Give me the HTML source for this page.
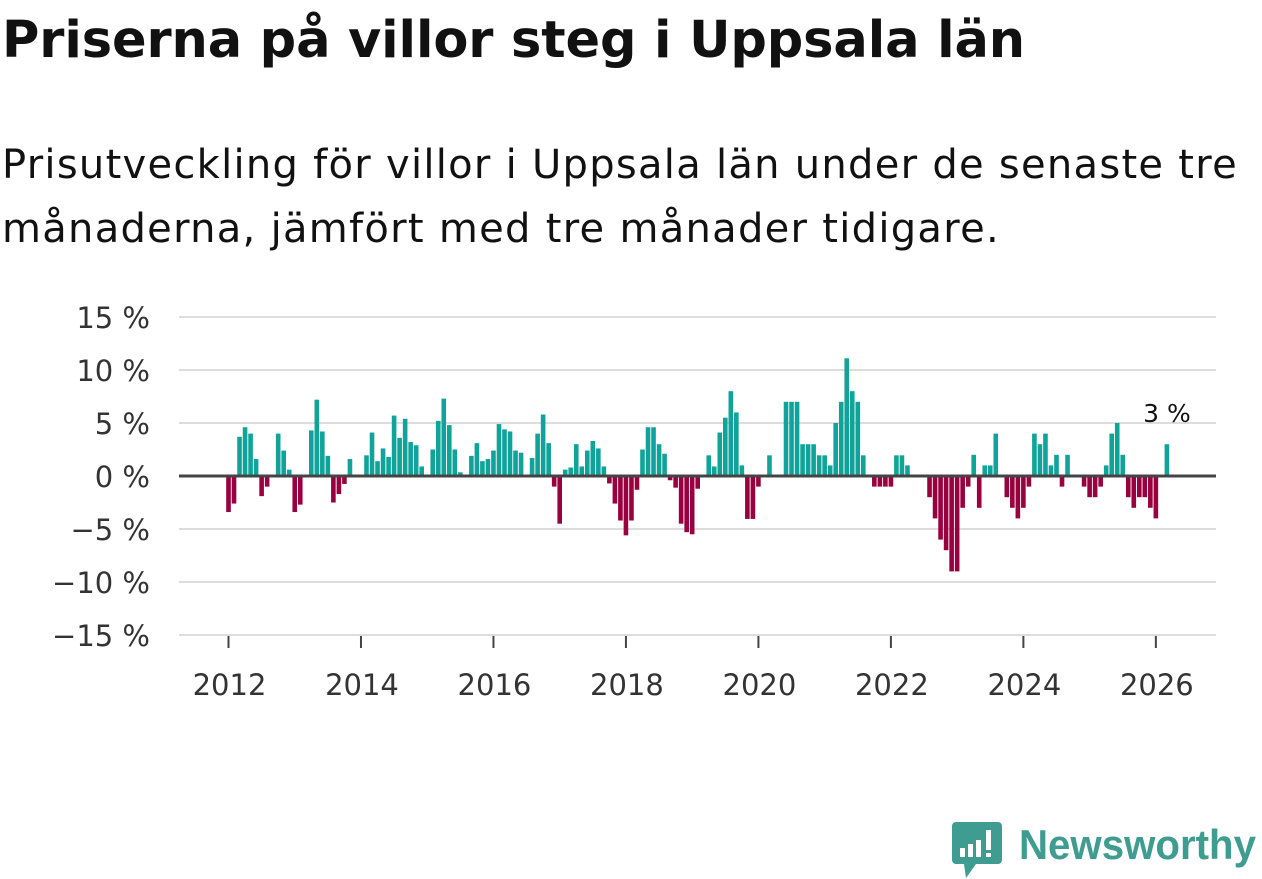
<!DOCTYPE html>
<html><head><meta charset="utf-8"><style>
body{margin:0;width:1262px;height:879px;background:#fff;font-family:"DejaVu Sans",sans-serif;overflow:hidden;position:relative}
#title{position:absolute;left:2px;top:10px;font-size:51px;font-weight:bold;color:#111;margin:0;white-space:nowrap;line-height:62px}
.sub{position:absolute;left:2px;font-size:40px;line-height:50px;color:#111;white-space:nowrap}
svg{position:absolute;left:0;top:0}
</style></head><body>
<h1 id="title">Priserna på villor steg i Uppsala län</h1>
<div id="sub1" class="sub" style="top:140px">Prisutveckling för villor i Uppsala län under de senaste tre</div>
<div id="sub2" class="sub" style="top:204px">månaderna, jämfört med tre månader tidigare.</div>
<svg id="chart" width="1262" height="879"></svg>
<script>
const values=[-3.4,-2.6,3.7,4.6,4.0,1.6,-1.9,-1.0,0,4.0,2.4,0.6,
-3.4,-2.7,0,4.3,7.2,4.2,1.9,-2.5,-1.7,-0.75,1.6,0,
0,1.95,4.1,1.4,2.6,1.8,5.7,3.6,5.4,3.2,2.9,0.9,
0,2.5,5.2,7.3,4.8,2.5,0.35,0,1.9,3.1,1.4,1.6,
2.4,4.9,4.4,4.2,2.4,2.2,0,1.7,4.0,5.8,3.1,-1.0,
-4.5,0.6,0.8,3.0,0.9,2.4,3.3,2.6,0.9,-0.7,-2.6,-4.2,
-5.6,-4.2,-1.3,2.5,4.6,4.6,3.0,2.1,-0.4,-1.1,-4.5,-5.3,
-5.5,-1.2,0,1.95,0.9,4.1,5.5,8.0,6.0,1.0,-4.05,-4.05,
-1.0,0,1.95,0,0,7.0,7.0,7.0,3.0,3.0,3.0,1.95,
1.95,1.0,5.0,7.0,11.1,8.0,7.0,1.95,0,-1.0,-1.0,-1.0,
-1.0,1.95,1.95,1.0,0,0,0,-2.0,-4.0,-6.0,-7.0,-9.0,
-9.0,-3.0,-1.0,2.0,-3.0,1.0,1.0,4.0,0,-2.0,-3.0,-4.0,
-3.0,-1.0,4.0,3.0,4.0,1.0,2.0,-1.0,2.0,0,0,-1.0,
-2.0,-2.0,-1.0,1.0,4.0,5.0,2.0,-2.0,-3.0,-2.0,-2.0,-3.0,
-4.0,0,3.0];
const yTicks=[15,10,5,0,-5,-10,-15];
const yTickLabels=["15 %","10 %","5 %","0 %","\u22125 %","\u221210 %","\u221215 %"];
const xTicks=[2012,2014,2016,2018,2020,2022,2024,2026];
const startYear=2012;
const lastLabel="3 %";
const NS="http://www.w3.org/2000/svg";
const svg=document.getElementById('chart');
const y=v=>476-v*10.6;
const x=i=>228.5+i*5.52;
const xYear=yr=>x((yr-startYear)*12);
const FF='DejaVu Sans, sans-serif';
function mk(t,a){const e=document.createElementNS(NS,t);for(const k in a)e.setAttribute(k,a[k]);svg.appendChild(e);return e;}
yTicks.forEach((t,k)=>{
  if(t!==0){const g=mk('line',{x1:179,x2:1216,y1:y(t),y2:y(t),stroke:'#dddddd','stroke-width':2});
  
  }
  const l=mk('text',{x:150,y:y(t)+11,'text-anchor':'end','font-size':29,fill:'#333','font-family':FF});
  l.textContent=yTickLabels[k];
  
  
});
values.forEach((v,i)=>{
  if(v===0)return;
  const r=mk('rect',{x:x(i)-2.3,width:4.6,y:v>0?y(v):y(0),height:Math.abs(y(v)-y(0)),fill:v>0?'#0fa39a':'#98003f'});
  
  
});
const z=mk('line',{x1:179,x2:1216,y1:y(0),y2:y(0),stroke:'#444','stroke-width':3});


xTicks.forEach(yr=>{
  const tk=mk('line',{x1:xYear(yr),x2:xYear(yr),y1:636,y2:648,stroke:'#444','stroke-width':2});
  
  
  const l=mk('text',{x:xYear(yr)+1,y:695,'text-anchor':'middle','font-size':29,fill:'#333','font-family':FF});
  l.textContent=yr;
  
  
});
const li=values.length-1;
const an=mk('text',{x:x(li),y:y(values[li])-22,'text-anchor':'middle','font-size':25,fill:'#111','font-family':FF});
an.textContent=lastLabel;


function fit(id,target){const e=document.getElementById(id);const w=e.getBoundingClientRect().width;const n=e.textContent.length;e.style.letterSpacing=((target-w)/n)+'px';}
fit('title',1023);fit('sub1',1236);fit('sub2',998);
</script>
<svg width="1262" height="879" style="pointer-events:none">
<path d="M956 822 h42 a4 4 0 0 1 4 4 v34 a4 4 0 0 1 -4 4 h-22 l-10 14 l-2 -14 h-8 a4 4 0 0 1 -4 -4 v-34 a4 4 0 0 1 4 -4z" fill="#3f9c91"/>
<rect x="960" y="848" width="5" height="9" fill="#fff"/><rect x="968" y="844" width="5" height="13" fill="#fff"/><rect x="976" y="840" width="5" height="17" fill="#fff"/><rect x="986" y="830" width="5" height="20" fill="#fff"/><rect x="986" y="853" width="5" height="4" fill="#fff"/>
<text x="1019" y="859" font-size="42" font-weight="bold" fill="#3f9c91" font-family="Liberation Sans, sans-serif" textLength="237" lengthAdjust="spacingAndGlyphs">Newsworthy</text>
</svg>
</body></html>
